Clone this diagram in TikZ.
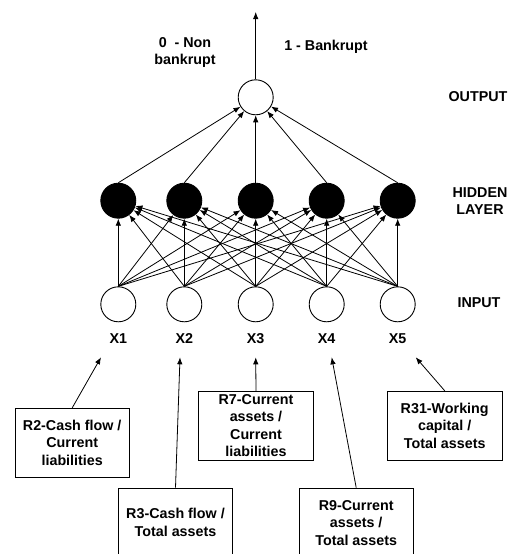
\documentclass[tikz,border=0pt]{standalone}
\usepackage{fontspec}
\setmainfont{Liberation Sans}
\usetikzlibrary{arrows.meta}
\begin{document}
\begin{tikzpicture}[x=1pt,y=-1pt,
  neuron/.style={circle,draw,line width=0.9pt,minimum size=35pt,inner sep=0pt},
  hid/.style={neuron,fill=black},
  inp/.style={neuron,fill=white},
  lbl/.style={font=\fontsize{14.3}{17}\selectfont\bfseries,inner sep=0pt,align=center},
  box/.style={draw,line width=0.9pt,minimum width=114.5pt,minimum height=69pt,inner sep=0pt,align=center,font=\fontsize{14.3}{17.5}\selectfont\bfseries},
  conn/.style={line width=0.8pt,-{Latex[length=7pt,width=5.5pt]}}]
\useasboundingbox (0,0) rectangle (513,554);
\clip (0,0) rectangle (513,554);
% nodes
\node[inp] (out) at (255.7,97.3) {};
\foreach \k/\x in {1/118.3,2/184.3,3/255.7,4/326.7,5/397.7}{
  \node[hid] (h\k) at (\x,200.7) {};
  \node[inp] (i\k) at (\x,304.3) {};
  \node[lbl,anchor=base] (xl\k) at (\x,343.5) {X\k};
}
% connections
\foreach \j in {1,...,5}{
  \foreach \k in {1,...,5}{
    \draw[conn] (i\j.north) -- (h\k);
  }
  \draw[conn] (h\j.north) -- (out);
}
\coordinate (top) at (255.7,12);
\draw[conn] (out.north) -- (top);
% output labels
\node[lbl] (l0) at (185,52.5) {0\ \ - Non\\bankrupt};
\node[lbl,anchor=base] (l1) at (326,50) {1 - Bankrupt};
\node[lbl] (lo) at (478,97) {OUTPUT};
\node[lbl] (lh) at (480,201) {HIDDEN\\LAYER};
\node[lbl] (li) at (479,303) {INPUT};
% boxes
\node[box] (b1) at (72.2,442.8) {R2-Cash flow /\\Current\\liabilities};
\node[box] (b2) at (175.5,522.6) {R3-Cash flow /\\Total assets};
\node[box] (b3) at (256,425.7) {R7-Current\\assets /\\Current\\liabilities};
\node[box] (b4) at (356.2,522.6) {R9-Current\\assets /\\Total assets};
\node[box] (b5) at (444.7,425.7) {R31-Working\\capital /\\Total assets};
\coordinate (t1) at (101,357.3);
\coordinate (t2) at (180,357.3);
\coordinate (t3) at (255.7,357.3);
\coordinate (t4) at (331.7,357.3);
\coordinate (t5) at (415.7,357.3);
\foreach \k in {1,...,5}{
  \draw[conn] (b\k.north) -- (t\k);
}
\end{tikzpicture}
\end{document}
